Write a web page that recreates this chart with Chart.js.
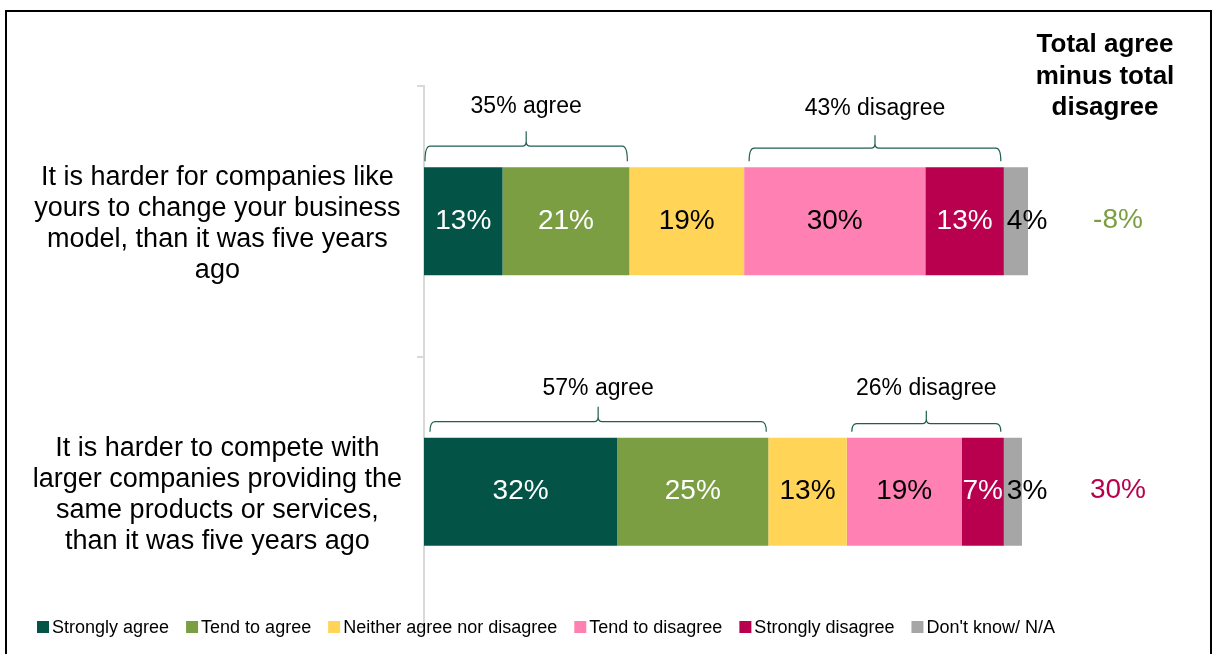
<!DOCTYPE html>
<html>
<head>
<meta charset="utf-8">
<script src="https://cdn.jsdelivr.net/npm/chart.js@4/dist/chart.umd.min.js"></script>
<style>
  html, body { margin: 0; padding: 0; background: #fff; overflow: hidden; }
  #wrap { position: relative; width: 1212px; height: 654px; }
  #frame { position: absolute; left: 5px; top: 10px; width: 1207px; height: 700px; border: 2px solid #000; box-sizing: border-box; pointer-events: none; }
</style>
</head>
<body>
<div id="wrap">
  <canvas id="chart" width="1212" height="654"></canvas>
  <div id="frame"></div>
</div>
<script>
const categories = [
  ["It is harder for companies like", "yours to change your business", "model, than it was five years", "ago"],
  ["It is harder to compete with", "larger companies providing the", "same products or services,", "than it was five years ago"]
];
const responses = ["Strongly agree", "Tend to agree", "Neither agree nor disagree", "Tend to disagree", "Strongly disagree", "Don't know/ N/A"];
const colors = ["#035446", "#7b9e42", "#ffd457", "#ff80b3", "#b8004f", "#a6a6a6"];
const labelColors = ["#fff", "#fff", "#000", "#000", "#fff", "#000"];

const stronglyAgree = [13, 32];
const tendToAgree = [21, 25];
const neither = [19, 13];
const tendToDisagree = [30, 19];
const stronglyDisagree = [13, 7];
const dontKnow = [4, 3];

const totalAgree = [35, 57];
const totalDisagree = [43, 26];
const netScore = [-8, 30];
const netColors = ["#7b9e42", "#b8004f"];

const FONT = "'Liberation Sans', Arial, sans-serif";
const series = [stronglyAgree, tendToAgree, neither, tendToDisagree, stronglyDisagree, dontKnow];

// percentage labels inside each segment
const segmentLabels = {
  id: "segmentLabels",
  afterDatasetsDraw(chart) {
    const ctx = chart.ctx;
    ctx.save();
    ctx.font = "28px " + FONT;
    ctx.textBaseline = "middle";
    chart.data.datasets.forEach((ds, di) => {
      chart.getDatasetMeta(di).data.forEach((bar, i) => {
        ctx.fillStyle = labelColors[di];
        if (di === series.length - 1) {
          ctx.textAlign = "left";
          ctx.fillText(ds.data[i] + "%", bar.base + 3, bar.y);
        } else {
          ctx.textAlign = "center";
          ctx.fillText(ds.data[i] + "%", (bar.base + bar.x) / 2, bar.y);
        }
      });
    });
    ctx.restore();
  }
};

// curly brackets with agree / disagree totals above the bars
function drawBrace(ctx, x0, x1, y, bottom, notch) {
  const mid = (x0 + x1) / 2;
  ctx.beginPath();
  ctx.moveTo(x0, bottom);
  ctx.quadraticCurveTo(x0, y, x0 + 5, y);
  ctx.lineTo(mid - 4, y);
  ctx.quadraticCurveTo(mid, y, mid, y - 5);
  ctx.lineTo(mid, y - notch);
  ctx.moveTo(mid, y - 5);
  ctx.quadraticCurveTo(mid, y, mid + 4, y);
  ctx.lineTo(x1 - 5, y);
  ctx.quadraticCurveTo(x1, y, x1, bottom);
  ctx.stroke();
}

const braces = {
  id: "braces",
  afterDatasetsDraw(chart) {
    const ctx = chart.ctx;
    const xs = chart.scales.x;
    const meta = chart.getDatasetMeta(0);
    ctx.save();
    ctx.strokeStyle = "#1f5e50";
    ctx.lineWidth = 1.2;
    ctx.fillStyle = "#000";
    ctx.font = "23px " + FONT;
    ctx.textAlign = "center";
    ctx.textBaseline = "middle";
    categories.forEach((c, i) => {
      const top = meta.data[i].y - meta.data[i].height / 2;
      const agreeEnd = stronglyAgree[i] + tendToAgree[i];
      const disStart = agreeEnd + neither[i];
      const disEnd = disStart + tendToDisagree[i] + stronglyDisagree[i];
      const lineY = top - (i === 0 ? 21 : 16);
      let a0 = xs.getPixelForValue(0) + 1 + i * 5, a1 = xs.getPixelForValue(agreeEnd) - 2;
      let d0 = xs.getPixelForValue(disStart) + 5, d1 = xs.getPixelForValue(disEnd) - 3;
      drawBrace(ctx, a0, a1, lineY, top - 6, 15);
      drawBrace(ctx, d0, d1, lineY + 2, top - 6, 13);
      ctx.fillText(totalAgree[i] + "% agree", (a0 + a1) / 2, lineY - 39 + i * 6);
      ctx.fillText(totalDisagree[i] + "% disagree", (d0 + d1) / 2, lineY - 37 + i * 4);
    });
    ctx.restore();
  }
};

// net score column on the right
const netColumn = {
  id: "netColumn",
  afterDraw(chart) {
    const ctx = chart.ctx;
    const meta = chart.getDatasetMeta(0);
    const cx = chart.chartArea.right + 77;
    ctx.save();
    ctx.textAlign = "center";
    ctx.textBaseline = "middle";
    ctx.fillStyle = "#000";
    ctx.font = "bold 26px " + FONT;
    ["Total agree", "minus total", "disagree"].forEach((t, k) => ctx.fillText(t, cx, 45 + k * 31.5));
    ctx.font = "28px " + FONT;
    netScore.forEach((v, i) => {
      ctx.fillStyle = netColors[i];
      ctx.fillText(v + "%", cx + 13, meta.data[i].y - 1);
    });
    ctx.restore();
  }
};

// compact legend row along the bottom
const bottomLegend = {
  id: "bottomLegend",
  afterDraw(chart) {
    const ctx = chart.ctx;
    ctx.save();
    ctx.font = "18px " + FONT;
    ctx.textBaseline = "middle";
    ctx.textAlign = "left";
    let x = 37;
    const y = 627;
    chart.data.datasets.forEach(ds => {
      ctx.fillStyle = ds.backgroundColor;
      ctx.fillRect(x, y - 6, 12, 12);
      ctx.fillStyle = "#000";
      ctx.fillText(ds.label, x + 15, y + 1);
      x += 15 + ctx.measureText(ds.label).width + 17;
    });
    ctx.restore();
  }
};

new Chart(document.getElementById("chart"), {
  type: "bar",
  data: {
    labels: categories,
    datasets: series.map((d, i) => ({
      label: responses[i],
      data: d,
      backgroundColor: colors[i],
      borderWidth: 0,
      categoryPercentage: 0.8,
      barPercentage: 0.5
    }))
  },
  options: {
    indexAxis: "y",
    responsive: false,
    animation: false,
    layout: { padding: { top: 86, bottom: 27, right: 184, left: 0 } },
    plugins: { legend: { display: false }, tooltip: { enabled: false } },
    scales: {
      x: { stacked: true, min: 0, max: 100, display: false },
      y: {
        stacked: true,
        border: { display: true, color: "#d9d9d9", width: 2 },
        grid: { drawOnChartArea: false, drawTicks: true, tickLength: 7, color: "#d9d9d9", lineWidth: 2 },
        ticks: {
          crossAlign: "center",
          padding: 15,
          labelOffset: 3,
          color: "#000",
          font: { family: FONT, size: 27, lineHeight: 1.15 }
        },
        afterFit(scale) {
          scale.width = 424;
          scale.paddingTop = 0;
          scale.paddingBottom = 0;
        }
      }
    }
  },
  plugins: [segmentLabels, braces, netColumn, bottomLegend]
});
</script>
</body>
</html>
